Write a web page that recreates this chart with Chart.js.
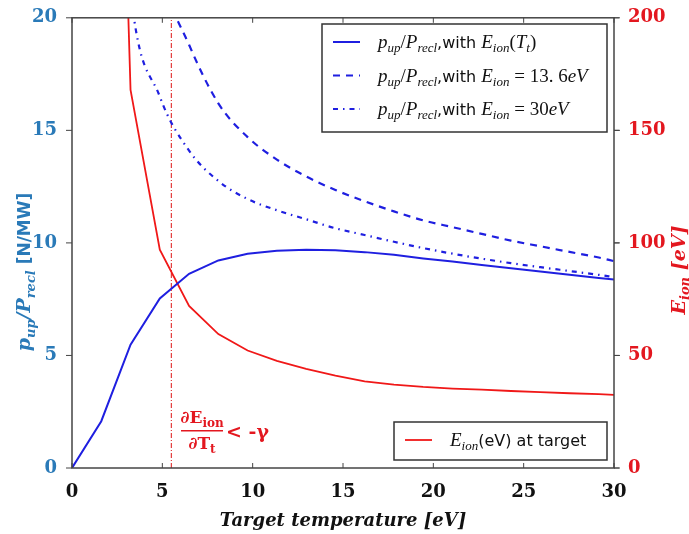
<!DOCTYPE html>
<html>
<head>
<meta charset="utf-8">
<script src="https://cdn.jsdelivr.net/npm/chart.js@4.4.1/dist/chart.umd.min.js"></script>
<style>
body { margin: 0; background: #fff; }
</style>
</head>
<body>
<canvas id="chart" width="689" height="534"></canvas>
<script>
// target temperature grid [eV]
const temps = [0, 1.62, 3.24, 4.86, 6.48, 8.1, 9.72, 11.34, 12.96, 14.58, 16.2, 17.82, 19.44, 21.06, 22.68, 24.3, 25.92, 27.54, 29.16, 30];
// p_up / P_recl [N/MW]
const pupEionT = [0, 2.08, 5.48, 7.53, 8.63, 9.22, 9.52, 9.65, 9.70, 9.67, 9.59, 9.47, 9.31, 9.17, 9.02, 8.87, 8.73, 8.59, 8.44, 8.37];
const pupE136 = [null, null, 30, 22.2, 18.8, 16.2, 14.7, 13.7, 12.95, 12.35, 11.85, 11.4, 11.0, 10.7, 10.4, 10.1, 9.85, 9.6, 9.35, 9.19];
const pupE30 = [null, 40, 21.2, 16.5, 14.1, 12.75, 11.95, 11.45, 11.05, 10.65, 10.35, 10.05, 9.77, 9.52, 9.3, 9.1, 8.92, 8.75, 8.58, 8.48];
// E_ion at target [eV]
const eIonTarget = [null, 600, 168, 97, 72, 59.5, 52.2, 47.6, 44, 41, 38.5, 37.0, 36.0, 35.3, 34.8, 34.2, 33.7, 33.2, 32.8, 32.5];
const threshold = 5.5;
const xTicks = [0, 5, 10, 15, 20, 25, 30];
const leftTicks = [0, 5, 10, 15, 20];
const rightTicks = [0, 50, 100, 150, 200];

const BLUE = '#1f1fe0';
const RED = '#f01818';
const AXBLUE = '#2a7ab8';
const AXRED = '#e3171f';
const SERIF = '"DejaVu Serif", serif';

function pts(ys) {
	return temps.map((t, i) => ({ x: t, y: ys[i] }));
}

function richWidth(ctx, parts) {
	let w = 0;
	parts.forEach(p => { ctx.font = p.f; w += ctx.measureText(p.t).width; });
	return w;
}
function drawRich(ctx, parts, x, y) {
	parts.forEach(p => {
		ctx.font = p.f;
		ctx.fillText(p.t, x, y + (p.dy || 0));
		x += ctx.measureText(p.t).width;
	});
	return x;
}

const M = 'italic 19px "Liberation Serif"';
const MS = 'italic 13px "Liberation Serif"';
const MU = '19px "Liberation Serif"';
const SANS = '16px "DejaVu Sans"';
const pupParts = [
	{ t: 'p', f: M }, { t: 'up', f: MS, dy: 4 }, { t: '/', f: MU }, { t: 'P', f: M }, { t: 'recl', f: MS, dy: 4 },
	{ t: ',with ', f: SANS }
];

const legendTop = [
	{ ds: 0, parts: pupParts.concat([{ t: 'E', f: M }, { t: 'ion', f: MS, dy: 4 }, { t: '(', f: MU }, { t: 'T', f: M }, { t: 't', f: MS, dy: 4 }, { t: ')', f: MU }]) },
	{ ds: 1, parts: pupParts.concat([{ t: 'E', f: M }, { t: 'ion', f: MS, dy: 4 }, { t: ' = 13. 6', f: MU }, { t: 'eV', f: M }]) },
	{ ds: 2, parts: pupParts.concat([{ t: 'E', f: M }, { t: 'ion', f: MS, dy: 4 }, { t: ' = 30', f: MU }, { t: 'eV', f: M }]) }
];
const legendBottom = [
	{ ds: 3, parts: [{ t: 'E', f: M }, { t: 'ion', f: MS, dy: 4 }, { t: '(eV) at target', f: SANS }] }
];

function legendLine(ctx, ds, x1, x2, y) {
	ctx.save();
	ctx.strokeStyle = ds.borderColor;
	ctx.lineWidth = ds.borderWidth;
	ctx.setLineDash(ds.borderDash || []);
	ctx.beginPath();
	ctx.moveTo(x1, y);
	ctx.lineTo(x2, y);
	ctx.stroke();
	ctx.restore();
}

const decorations = {
	id: 'decorations',
	afterDraw(chart) {
		const ctx = chart.ctx;
		const a = chart.chartArea;
		const sx = chart.scales.x, sy = chart.scales.y, sy2 = chart.scales.y2;
		ctx.save();

		// frame
		ctx.strokeStyle = '#444';
		ctx.lineWidth = 1.5;
		ctx.strokeRect(a.left, a.top, a.right - a.left, a.bottom - a.top);

		// ticks
		ctx.lineWidth = 1;
		ctx.beginPath();
		xTicks.forEach(v => {
			const px = sx.getPixelForValue(v);
			ctx.moveTo(px, a.bottom); ctx.lineTo(px, a.bottom - 5);
			ctx.moveTo(px, a.top); ctx.lineTo(px, a.top + 5);
		});
		leftTicks.forEach(v => {
			const py = sy.getPixelForValue(v);
			ctx.moveTo(a.left, py); ctx.lineTo(a.left - 6, py);
			ctx.moveTo(a.right, py); ctx.lineTo(a.right + 5, py);
		});
		rightTicks.forEach(v => {
			const py = sy2.getPixelForValue(v);
			ctx.moveTo(a.right, py); ctx.lineTo(a.right + 6, py);
		});
		ctx.stroke();

		// axis titles
		ctx.textBaseline = 'alphabetic';
		ctx.fillStyle = '#111';
		ctx.font = 'bold italic 18px ' + SERIF;
		ctx.textAlign = 'center';
		ctx.fillText('Target temperature [eV]', (a.left + a.right) / 2, 526);
		ctx.textAlign = 'left';

		const BI = 'bold italic 19px ' + SERIF;
		const BIS = 'bold italic 13px ' + SERIF;
		const leftTitle = [
			{ t: 'p', f: BI }, { t: 'up', f: BIS, dy: 5 }, { t: '/', f: BI }, { t: 'P', f: BI }, { t: 'recl', f: BIS, dy: 5 },
			{ t: ' [N/MW]', f: 'bold 17px "DejaVu Sans"' }
		];
		ctx.fillStyle = AXBLUE;
		ctx.save();
		ctx.translate(30, 272);
		ctx.rotate(-Math.PI / 2);
		drawRich(ctx, leftTitle, -richWidth(ctx, leftTitle) / 2, 0);
		ctx.restore();

		const rightTitle = [{ t: 'E', f: BI }, { t: 'ion', f: BIS, dy: 4 }, { t: ' [eV]', f: BI }];
		ctx.fillStyle = AXRED;
		ctx.save();
		ctx.translate(685, 270);
		ctx.rotate(-Math.PI / 2);
		drawRich(ctx, rightTitle, -richWidth(ctx, rightTitle) / 2, 0);
		ctx.restore();

		// annotation
		ctx.fillStyle = AXRED;
		const AF = 'bold 17px ' + SERIF;
		const AS = 'bold 12px ' + SERIF;
		const num = [{ t: '\u2202E', f: AF }, { t: 'ion', f: AS, dy: 4 }];
		const den = [{ t: '\u2202T', f: AF }, { t: 't', f: AS, dy: 4 }];
		const fx = 181, fw = 42;
		drawRich(ctx, num, fx + (fw - richWidth(ctx, num)) / 2, 423);
		drawRich(ctx, den, fx + (fw - richWidth(ctx, den)) / 2, 449);
		ctx.fillRect(fx, 430, fw, 1.5);
		ctx.font = 'bold 19px ' + SERIF;
		ctx.fillText('< -\u03b3', 226, 438);

		// legends
		const dsets = chart.data.datasets;
		function box(x, y, w, h, items, rowY, gap) {
			ctx.fillStyle = '#fff';
			ctx.fillRect(x, y, w, h);
			ctx.strokeStyle = '#333';
			ctx.lineWidth = 1.5;
			ctx.strokeRect(x, y, w, h);
			items.forEach((it, i) => {
				const yy = rowY + i * gap;
				legendLine(ctx, dsets[it.ds], x + 11, x + 38, yy);
				ctx.fillStyle = '#111';
				drawRich(ctx, it.parts, x + 56, yy + 6);
			});
		}
		box(322, 24, 285, 108, legendTop, 42, 33.5);
		box(394, 422, 213, 38, legendBottom, 440, 0);

		ctx.restore();
	}
};

const tickFont = { family: '"DejaVu Serif", serif', size: 18, weight: 'bold' };

new Chart(document.getElementById('chart'), {
	type: 'line',
	data: {
		datasets: [
			{ data: pts(pupEionT), borderColor: BLUE, borderWidth: 2, yAxisID: 'y', tension: 0 },
			{ data: pts(pupE136), borderColor: BLUE, borderWidth: 2.2, borderDash: [7, 6], yAxisID: 'y', cubicInterpolationMode: 'monotone' },
			{ data: pts(pupE30), borderColor: BLUE, borderWidth: 2.2, borderDash: [5, 5, 1.5, 5], yAxisID: 'y', cubicInterpolationMode: 'monotone' },
			{ data: pts(eIonTarget), borderColor: RED, borderWidth: 1.8, yAxisID: 'y2', tension: 0 },
			{ data: [{ x: threshold, y: 0 }, { x: threshold, y: 20 }], borderColor: '#e23c3c', borderWidth: 1.2, borderDash: [5, 2, 1, 2], yAxisID: 'y' }
		]
	},
	options: {
		responsive: false,
		animation: false,
		spanGaps: false,
		elements: { point: { radius: 0 } },
		layout: { padding: { top: 13, left: 0, right: 0, bottom: 0 } },
		plugins: { legend: { display: false }, tooltip: { enabled: false } },
		scales: {
			x: {
				type: 'linear', min: 0, max: 30,
				afterFit: s => { s.height = 66; },
				afterBuildTicks: s => { s.ticks = xTicks.map(v => ({ value: v })); },
				grid: { display: false }, border: { display: false },
				ticks: { font: tickFont, color: '#111', padding: 6, maxRotation: 0 }
			},
			y: {
				position: 'left', min: 0, max: 20,
				afterFit: s => { s.width = 72; },
				afterBuildTicks: s => { s.ticks = leftTicks.map(v => ({ value: v })); },
				grid: { display: false }, border: { display: false },
				ticks: { font: tickFont, color: AXBLUE, padding: 7 }
			},
			y2: {
				position: 'right', min: 0, max: 200,
				afterFit: s => { s.width = 75; },
				afterBuildTicks: s => { s.ticks = rightTicks.map(v => ({ value: v })); },
				grid: { display: false }, border: { display: false },
				ticks: { font: tickFont, color: AXRED, padding: 6 }
			}
		}
	},
	plugins: [decorations]
});
</script>
</body>
</html>
